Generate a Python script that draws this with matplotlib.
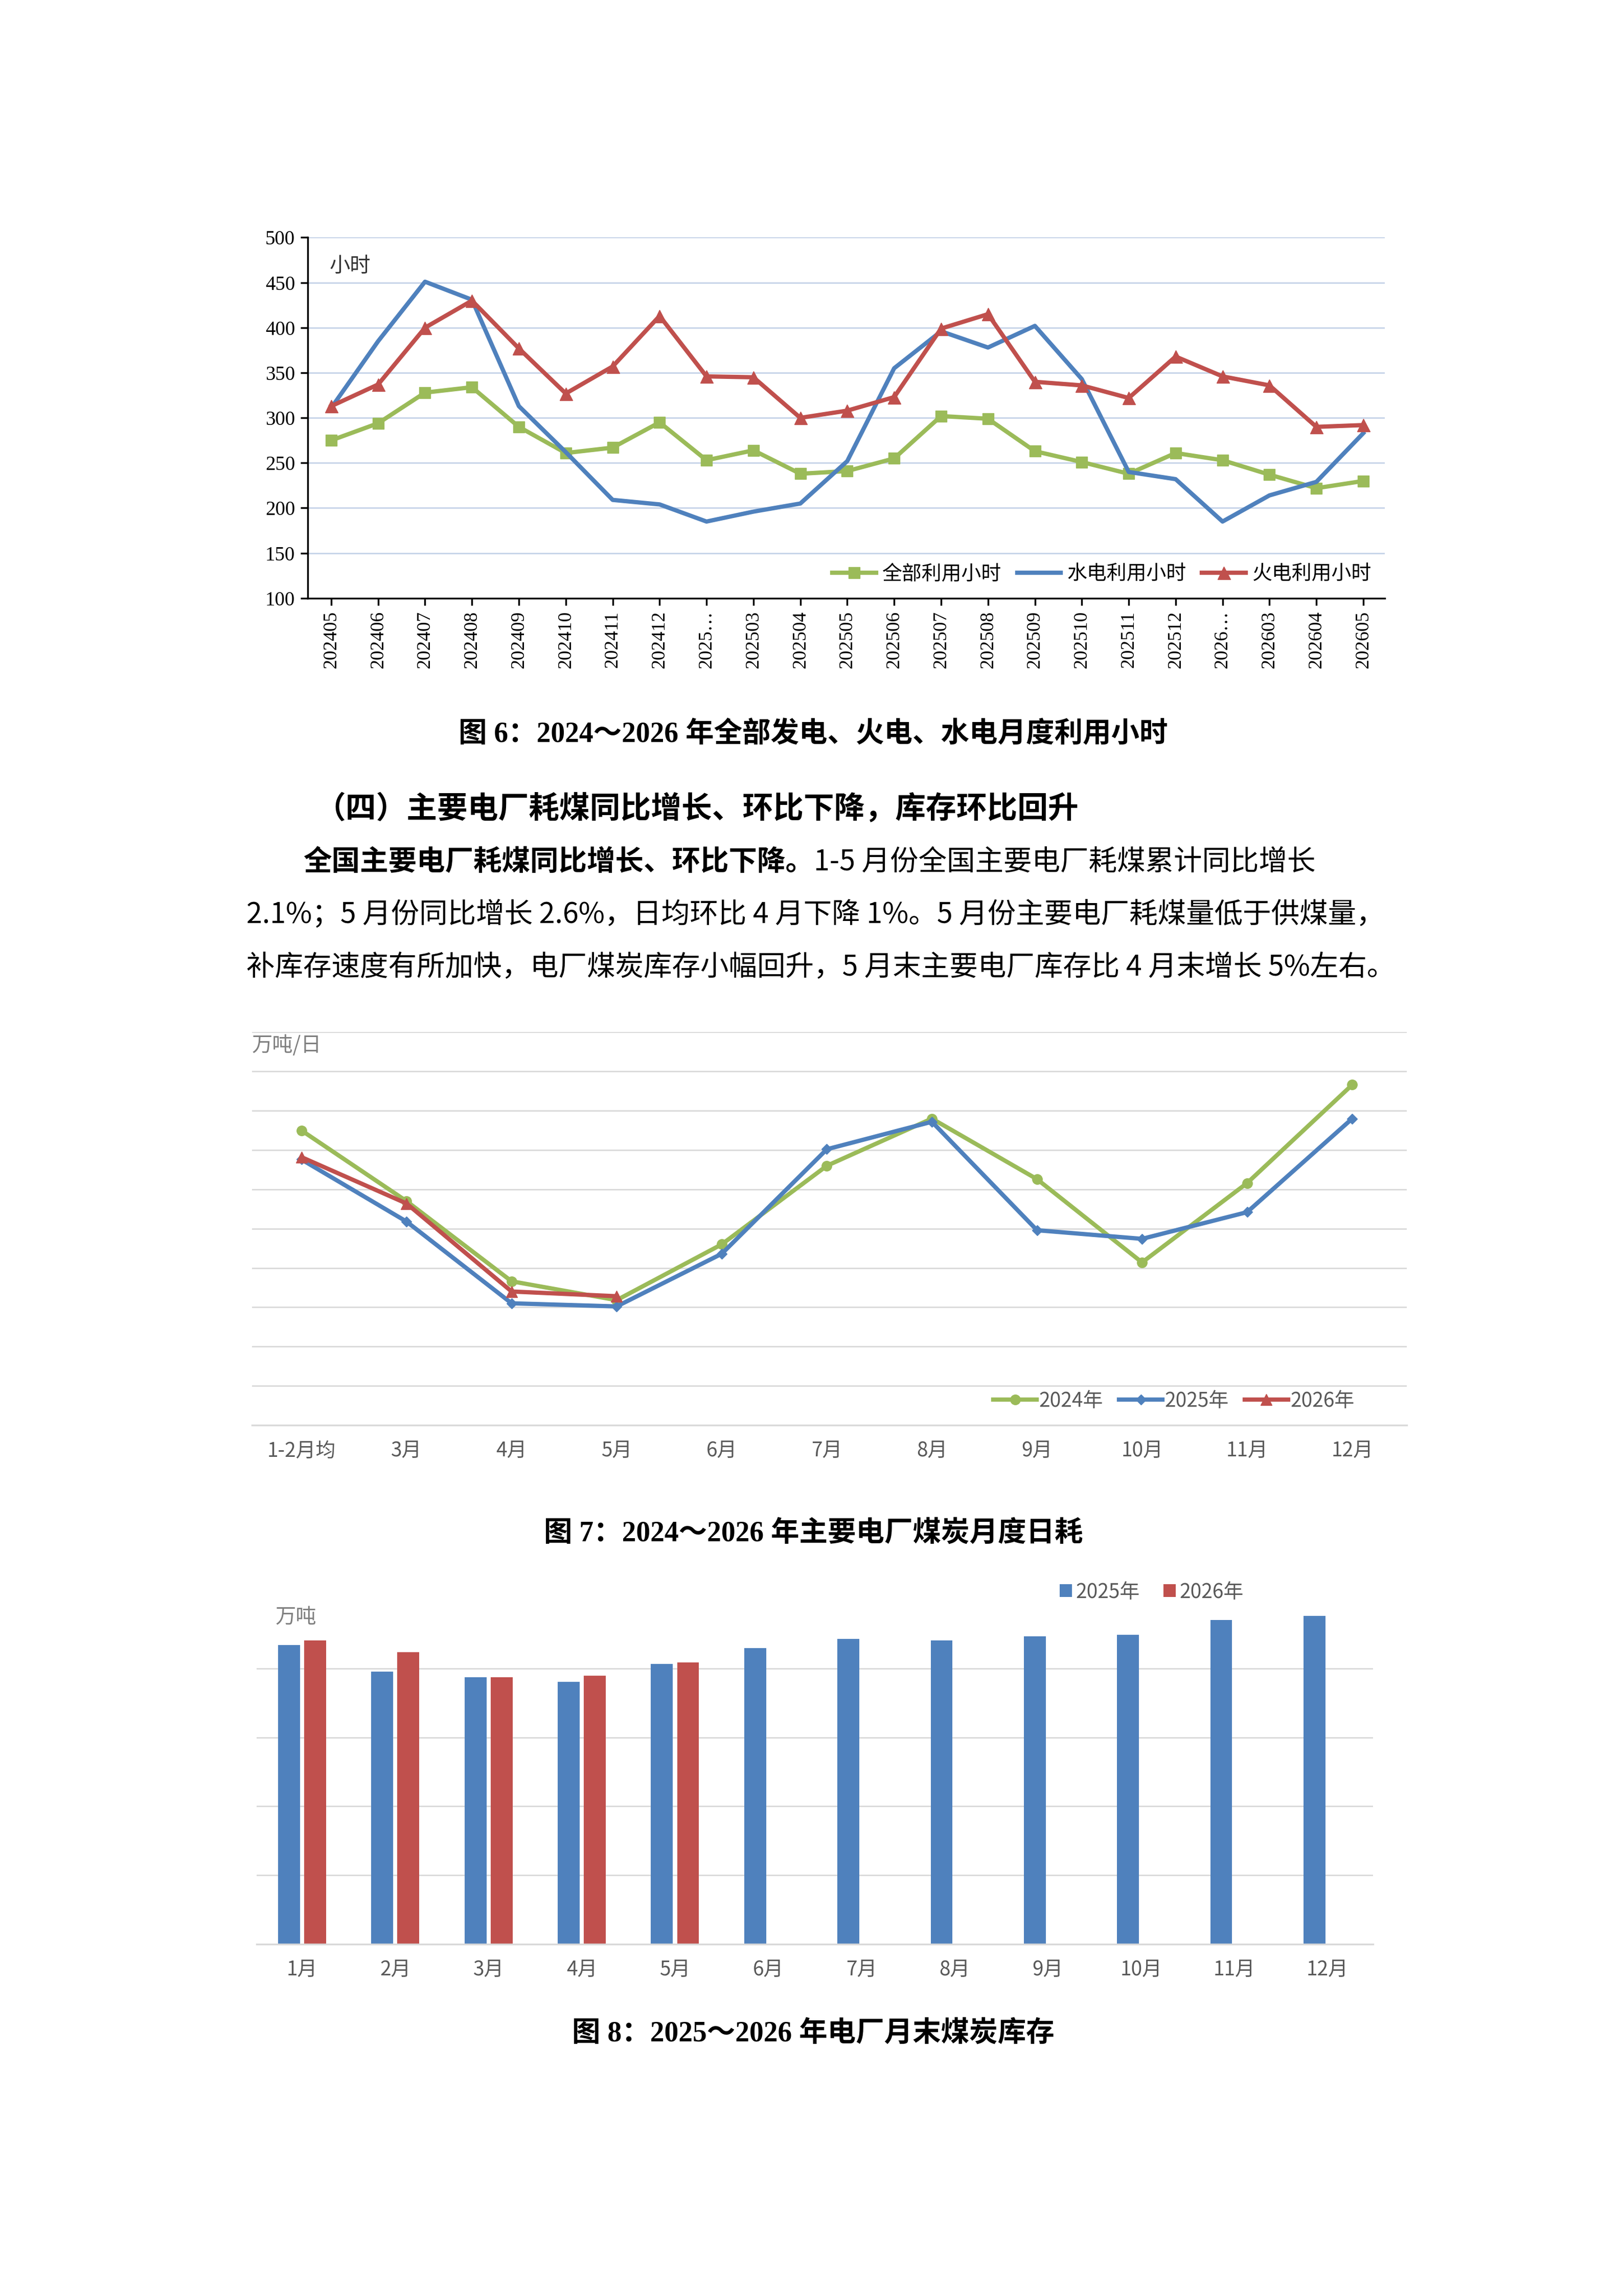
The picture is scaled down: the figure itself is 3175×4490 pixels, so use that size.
import matplotlib
matplotlib.use("Agg")
import matplotlib.pyplot as plt
import numpy as np

CJK = ['Noto Sans CJK SC', 'DejaVu Sans']
SER = ['Liberation Serif', 'Noto Sans CJK SC']
plt.rcParams['font.family'] = CJK

# ---- Chart 1 data ----
months1 = ['202405','202406','202407','202408','202409','202410','202411','202412','2025…',
           '202503','202504','202505','202506','202507','202508','202509','202510','202511','202512',
           '2026…','202603','202604','202605']
total_hours = [275,294,328,334,290,261,267,295,253,264,238,241,255,302,299,263,251,238,261,253,237,222,230]
hydro_hours = [311,385,451,431,313,262,209,204,185,196,205,252,355,396,378,402,343,240,232,185,214,229,283]
thermal_hours = [313,337,400,430,377,327,357,413,346,345,300,308,323,399,415,340,336,322,368,346,336,290,292]

# ---- Chart 2 data ----
months2 = ['1-2月均','3月','4月','5月','6月','7月','8月','9月','10月','11月','12月']
coal_2024 = [675,585,483,459,530,630,690,613,507,608,733]
coal_2025 = [638,559,455,451,518,651,686,548,537,571,690]
coal_2026 = [641,582,470,464]

# ---- Chart 3 data ----
months3 = ['1月','2月','3月','4月','5月','6月','7月','8月','9月','10月','11月','12月']
stock_2025 = [21700,19790,19360,19040,20320,21490,22130,22020,22340,22450,23510,23830]
stock_2026 = [22020,21170,19360,19470,20430]

W, H = 1107.5, 1566
fig = plt.figure(figsize=(31.75, 44.9), dpi=100)
fig.patch.set_facecolor('white')

def ax_at(x0, x1, y0, y1):
    return fig.add_axes([x0/W, 1-y1/H, (x1-x0)/W, (y1-y0)/H])

GREEN = '#9bbb59'; BLUE = '#4f81bd'; RED = '#c0504d'

# Chart 1
ax1 = ax_at(210, 945, 162, 408)
x = np.arange(len(months1))
ax1.plot(x, total_hours, color=GREEN, lw=6, marker='s', ms=16, label='全部利用小时')
ax1.plot(x, hydro_hours, color=BLUE, lw=6, label='水电利用小时')
ax1.plot(x, thermal_hours, color=RED, lw=6, marker='^', ms=18, label='火电利用小时')
ax1.set_ylim(100, 500)
ax1.set_yticks(range(100, 501, 50))
ax1.set_xlim(-0.5, len(months1)-0.54)
ax1.set_xticks(x)
ax1.set_xticklabels(months1, rotation=90, family=SER, fontsize=27)
for t in ax1.get_yticklabels():
    t.set_fontfamily(SER); t.set_fontsize(28)
ax1.grid(axis='y', color='#c5d3e8', lw=2)
ax1.set_axisbelow(True)
for s in ['top', 'right']:
    ax1.spines[s].set_visible(False)
for s in ['left', 'bottom']:
    ax1.spines[s].set_linewidth(2.5)
ax1.tick_params(width=2.5, length=10, pad=8)
ax1.text(0.02, 0.95, '小时', transform=ax1.transAxes, fontsize=29, va='top', color='#333333')
ax1.legend(loc='lower right', ncol=3, frameon=False, fontsize=28, handlelength=2.2,
           columnspacing=0.8, handletextpad=0.3, borderaxespad=0.3)

def caption(y, s):
    fig.text(555/W, 1-y/H, s, ha='center', va='center', fontsize=40, fontweight='bold', family=SER)

caption(501, '图 6：2024～2026 年全部发电、火电、水电月度利用小时')

fig.text(215/W, 1-552/H, '（四）主要电厂耗煤同比增长、环比下降，库存环比回升', fontsize=43,
         fontweight='bold', va='center')
r = fig.canvas.get_renderer()
t1 = fig.text(207/W, 1-588/H, '全国主要电厂耗煤同比增长、环比下降。', fontsize=40, fontweight='bold', va='center')
bb = t1.get_window_extent(r)
fig.text(bb.x1/fig.bbox.width, 1-588/H, '1-5 月份全国主要电厂耗煤累计同比增长', fontsize=40, va='center')
fig.text(168/W, 1-624/H, '2.1%；5 月份同比增长 2.6%，日均环比 4 月下降 1%。5 月份主要电厂耗煤量低于供煤量，',
         fontsize=40, va='center')
fig.text(168/W, 1-660/H, '补库存速度有所加快，电厂煤炭库存小幅回升，5 月末主要电厂库存比 4 月末增长 5%左右。',
         fontsize=40, va='center')

# Chart 2
ax2 = ax_at(172, 960, 704, 972)
x2 = np.arange(len(months2))
ax2.plot(x2, coal_2024, color=GREEN, lw=6, marker='o', ms=14, label='2024年')
ax2.plot(x2, coal_2025, color=BLUE, lw=6, marker='D', ms=10, label='2025年')
ax2.plot(np.arange(len(coal_2026)), coal_2026, color=RED, lw=6, marker='^', ms=16, label='2026年')
ax2.set_ylim(300, 800)
ax2.set_yticks(range(300, 801, 50))
ax2.set_yticklabels([])
ax2.tick_params(axis='y', length=0)
ax2.set_xlim(-0.47, 10.52)
ax2.set_xticks(x2)
ax2.set_xticklabels(months2, fontsize=28, color='#595959')
ax2.tick_params(axis='x', length=0, pad=22)
ax2.grid(axis='y', color='#d9d9d9', lw=2)
ax2.set_axisbelow(True)
for s in ['top', 'right', 'left']:
    ax2.spines[s].set_visible(False)
ax2.spines['bottom'].set_color('#d9d9d9'); ax2.spines['bottom'].set_linewidth(2.5)
ax2.text(0.0, 1-9/268, '万吨/日', transform=ax2.transAxes, fontsize=29, va='center', color='#7f7f7f')
ax2.legend(loc='lower right', bbox_to_anchor=(0.97, -0.01), ncol=3, frameon=False, fontsize=28,
           handlelength=2.2, columnspacing=0.8, handletextpad=0.1, labelcolor='#595959')

caption(1046, '图 7：2024～2026 年主要电厂煤炭月度日耗')

# Chart 3
ax3 = ax_at(175, 937, 1091, 1326)
x3 = np.arange(len(months3))
off, bw = 0.14, 0.235
ax3.bar(x3 - off, stock_2025, width=bw, color=BLUE, label='2025年')
ax3.bar(np.arange(len(stock_2026)) + off, stock_2026, width=bw, color=RED, label='2026年')
ax3.set_ylim(0, 25000)
ax3.set_yticks([5000, 10000, 15000, 20000])
ax3.set_yticklabels([])
ax3.tick_params(axis='y', length=0)
ax3.set_xlim(-0.49, 11.49)
ax3.set_xticks(x3)
ax3.set_xticklabels(months3, fontsize=28, color='#595959')
ax3.tick_params(axis='x', length=0, pad=22)
ax3.grid(axis='y', color='#d9d9d9', lw=2)
ax3.set_axisbelow(True)
for s in ['top', 'right', 'left']:
    ax3.spines[s].set_visible(False)
ax3.spines['bottom'].set_color('#d9d9d9'); ax3.spines['bottom'].set_linewidth(2.5)
ax3.text(13/762, 1-12/235, '万吨', transform=ax3.transAxes, fontsize=29, va='center', color='#7f7f7f')
ax3.legend(loc='lower right', bbox_to_anchor=(0.9, 0.94), ncol=2, frameon=False, fontsize=28,
           handlelength=0.6, handleheight=0.6, columnspacing=1.2, handletextpad=0.2, labelcolor='#595959')

caption(1387, '图 8：2025～2026 年电厂月末煤炭库存')

fig.savefig('out.png', dpi=100, facecolor='white')
